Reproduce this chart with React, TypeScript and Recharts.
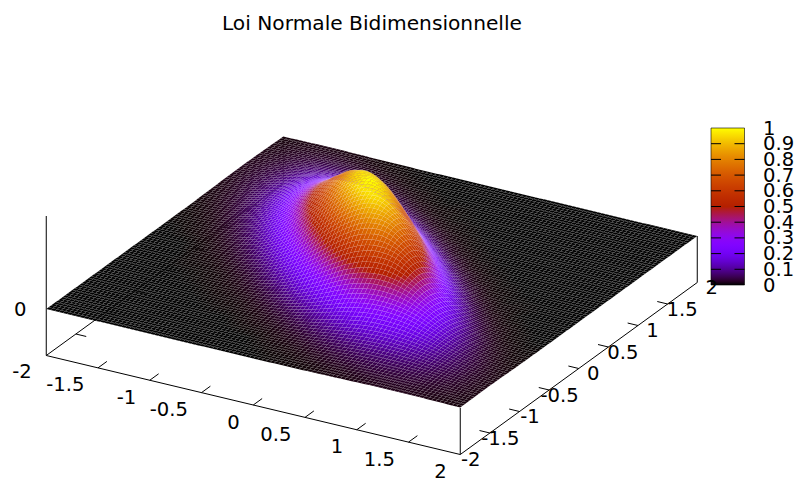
import React from "react";
import { ScatterChart, Scatter, XAxis, YAxis, ReferenceLine, ReferenceArea } from "recharts";

const W = 798;
const H = 479;
const titleText = "Loi Normale Bidimensionnelle";
const xTicks = [-2, -1.5, -1, -0.5, 0, 0.5, 1, 1.5, 2];
const yTicks = [-2, -1.5, -1, -0.5, 0, 0.5, 1, 1.5, 2];
const zTicks = [0];
const cbTicks = [0, 0.1, 0.2, 0.3, 0.4, 0.5, 0.6, 0.7, 0.8, 0.9, 1];
const gridX = [-2, -1.8, -1.6, -1.4, -1.2, -1, -0.8, -0.6, -0.4, -0.2, 0, 0.2, 0.4, 0.6, 0.8, 1, 1.2, 1.4, 1.6, 1.8, 2];

// surface heights, one list per y value (y = -2 ... 2), left to right along x
const yM20 = [0,0,0,0,0,0,0,0,0,0,0,.001,.001,.004,.007,.010,.013,.013,.011,.008,.005];
const yM18 = [0,0,0,0,0,0,0,0,0,0,.001,.003,.008,.015,.021,.028,.029,.027,.021,.015,.008];
const yM16 = [0,0,0,0,0,0,0,0,0,.001,.006,.013,.026,.040,.054,.060,.058,.049,.035,.020,.009];
const yM14 = [0,0,0,0,0,0,0,0,.003,.008,.020,.040,.068,.095,.114,.115,.102,.077,.047,.022,.008];
const yM12 = [0,0,0,0,0,0,.001,.003,.010,.027,.058,.104,.152,.192,.205,.191,.152,.097,.048,.018,.005];
const yM10 = [0,0,0,0,0,.001,.004,.011,.034,.076,.141,.220,.293,.328,.322,.271,.181,.096,.036,.010,.002];
const yM08 = [0,0,0,0,.001,.004,.013,.036,.089,.175,.285,.400,.473,.489,.433,.306,.171,.069,.020,.004,.001];
const yM06 = [0,0,0,.001,.003,.011,.036,.095,.194,.333,.492,.615,.670,.625,.465,.274,.116,.035,.007,.001,0];
const yM04 = [0,0,0,.003,.010,.034,.089,.194,.352,.548,.720,.826,.811,.637,.394,.176,.055,.012,.002,0,0];
const yM02 = [0,0,.001,.008,.027,.076,.175,.333,.548,.759,.917,.949,.785,.513,.241,.080,.018,.003,0,0,0];
const y000 = [0,.001,.006,.020,.058,.141,.285,.492,.720,.917,1,.871,.600,.296,.104,.025,.004,.001,0,0,0];
const yP02 = [.001,.003,.013,.040,.104,.220,.400,.615,.826,.949,.871,.632,.330,.122,.031,.006,.001,0,0,0,0];
const yP04 = [.001,.008,.026,.068,.152,.293,.473,.670,.811,.785,.600,.330,.129,.034,.007,.001,0,0,0,0,0];
const yP06 = [.004,.015,.040,.095,.192,.328,.489,.625,.637,.513,.296,.122,.034,.007,.001,0,0,0,0,0,0];
const yP08 = [.007,.021,.054,.114,.205,.322,.433,.465,.394,.241,.104,.031,.007,.001,0,0,0,0,0,0,0];
const yP10 = [.010,.028,.060,.115,.191,.271,.306,.274,.176,.080,.025,.006,.001,0,0,0,0,0,0,0,0];
const yP12 = [.013,.029,.058,.102,.152,.181,.171,.116,.055,.018,.004,.001,0,0,0,0,0,0,0,0,0];
const yP14 = [.013,.027,.049,.077,.097,.096,.069,.035,.012,.003,.001,0,0,0,0,0,0,0,0,0,0];
const yP16 = [.011,.021,.035,.047,.048,.036,.020,.007,.002,0,0,0,0,0,0,0,0,0,0,0,0];
const yP18 = [.008,.015,.020,.022,.018,.010,.004,.001,0,0,0,0,0,0,0,0,0,0,0,0,0];
const yP20 = [.005,.008,.009,.008,.005,.002,.001,0,0,0,0,0,0,0,0,0,0,0,0,0,0];
const rows = [yM20,yM18,yM16,yM14,yM12,yM10,yM08,yM06,yM04,yM02,y000,yP02,yP04,yP06,yP08,yP10,yP12,yP14,yP16,yP18,yP20];

// gnuplot view of the box
const project = (x: number, y: number, z: number) => ({
  sx: 371.75 + 103.5 * x + 59.25 * y,
  sy: 272.5 + 24.75 * x - 43 * y - 93 * z,
});

const palette = (v: number) => {
  const t = Math.max(0, Math.min(1, v));
  const r = Math.sqrt(t);
  const g = t * t * t;
  const b = Math.max(0, Math.sin(2 * Math.PI * t));
  return `rgb(${Math.round(r * 255)},${Math.round(g * 255)},${Math.round(b * 255)})`;
};

const SUB = 5;
const clampIdx = (n: number) => Math.max(0, Math.min(20, n));
const cr = (a: number, b: number, c: number, d: number, t: number) =>
  0.5 * (2 * b + (c - a) * t + (2 * a - 5 * b + 4 * c - d) * t * t + (3 * b - a - 3 * c + d) * t * t * t);
// smooth height inside one cell of the read grid (same idea as a smoothed line between points)
const patch = (ci: number, cj: number, u: number, v: number) => {
  const col = [-1, 0, 1, 2].map((dj) => {
    const r = rows[clampIdx(cj + dj)];
    return cr(r[clampIdx(ci - 1)], r[clampIdx(ci)], r[clampIdx(ci + 1)], r[clampIdx(ci + 2)], u);
  });
  return Math.max(0, cr(col[0], col[1], col[2], col[3], v));
};

const cells: { sx: number; sy: number; ci: number; cj: number }[] = [];
for (let cj = 19; cj >= 0; cj--) {
  for (let ci = 0; ci < 20; ci++) {
    const p = project(gridX[ci] + 0.1, gridX[cj] + 0.1, 0);
    cells.push({ sx: p.sx, sy: p.sy, ci, cj });
  }
}

const CellShape = (props: any) => {
  const { cx, cy, payload } = props;
  const { ci, cj, sx, sy } = payload;
  const polys: React.ReactNode[] = [];
  const pt = (a: number, b: number) => {
    const u = a / SUB;
    const v = b / SUB;
    const z = patch(ci, cj, u, v);
    const p = project(gridX[ci] + 0.2 * u, gridX[cj] + 0.2 * v, z);
    return { x: p.sx - sx + cx, y: p.sy - sy + cy, z };
  };
  for (let b = SUB - 1; b >= 0; b--) {
    for (let a = 0; a < SUB; a++) {
      const c = [pt(a, b), pt(a + 1, b), pt(a + 1, b + 1), pt(a, b + 1)];
      const zm = (c[0].z + c[1].z + c[2].z + c[3].z) / 4;
      polys.push(
        <polygon
          key={`${a}-${b}`}
          points={c.map((q) => `${q.x.toFixed(2)},${q.y.toFixed(2)}`).join(" ")}
          fill={palette(zm)}
          stroke="rgba(255,255,255,0.13)"
          strokeWidth={0.4}
        />
      );
    }
  }
  return <g>{polys}</g>;
};

const font = "'DejaVu Sans', sans-serif";
const Label = (props: any) => {
  const { cx, cy, payload } = props;
  return (
    <text
      x={cx + payload.dx}
      y={cy + payload.dy}
      textAnchor={payload.anchor}
      dominantBaseline="central"
      fontFamily={font}
      fontSize={payload.size}
      fill="#000"
    >
      {payload.text}
    </text>
  );
};

const floorX = (x: number) => project(x, -2, -0.5);
const floorY = (y: number) => project(2, y, -0.5);
const labels = [
  { sx: 372, sy: 23, dx: 0, dy: 0, anchor: "middle", size: 20.2, text: titleText },
  ...xTicks.map((v) => {
    const p = floorX(v);
    return { ...p, dx: -13.5, dy: 17, anchor: "end", size: 19.6, text: String(v) };
  }).filter((l) => l.text !== "-2"),
  ...yTicks.map((v) => {
    const p = floorY(v);
    return { ...p, dx: v < 0 ? 10.5 : 14.5, dy: 5, anchor: "middle", size: 19.6, text: String(v) };
  }),
  { sx: 46, sy: 369, dx: -24, dy: 2, anchor: "middle", size: 19.6, text: "-2" },
  ...zTicks.map((v) => {
    const p = project(-2, -2, v);
    return { ...p, dx: -26, dy: 0, anchor: "middle", size: 19.6, text: String(v) };
  }),
  ...cbTicks.map((v) => ({
    sx: 763, sy: 285 - 157 * v, dx: 0, dy: 0, anchor: "start", size: 19.6, text: String(v),
  })),
];

const seg = (a: { sx: number; sy: number }, b: { sx: number; sy: number }, key: string, stroke = "#000", op = 1) => (
  <ReferenceLine
    key={key}
    segment={[{ x: a.sx, y: a.sy }, { x: b.sx, y: b.sy }]}
    stroke={stroke}
    strokeOpacity={op}
    strokeWidth={1}
    ifOverflow="visible"
  />
);

export default function App() {
  return (
    <div style={{ position: "absolute", left: 0, top: 0, width: W, height: H, background: "#fff" }}>
      <ScatterChart width={W} height={H} margin={{ top: 0, right: 0, bottom: 0, left: 0 }}>
        <defs>
          <linearGradient id="cbar" x1="0" y1="1" x2="0" y2="0">
            {Array.from({ length: 41 }, (_, k) => (
              <stop key={k} offset={k / 40} stopColor={palette(k / 40)} />
            ))}
          </linearGradient>
        </defs>
        <XAxis type="number" dataKey="sx" domain={[0, W]} hide />
        <YAxis type="number" dataKey="sy" domain={[0, H]} reversed hide />
        {/* floor and back edges, behind the surface */}
        {seg(project(-2, -2, -0.5), project(2, -2, -0.5), "f1")}
        {seg(project(2, -2, -0.5), project(2, 2, -0.5), "f2")}
        {seg(project(-2, -2, -0.5), project(-2, 2, -0.5), "f3")}
        {seg(project(-2, -2, -0.5), project(-2, -2, 1), "zaxis")}
        {seg(project(2, -2, -0.5), project(2, -2, 0), "v1")}
        {seg(project(2, 2, -0.5), project(2, 2, 0), "v2")}
        {xTicks.slice(1, 8).map((v) => seg(floorX(v), project(v, -1.85, -0.5), `xt${v}`))}
        {yTicks.slice(1, 8).map((v) => seg(floorY(v), project(1.9, v, -0.5), `yt${v}`))}
        {yTicks.slice(1, 8).map((v) => seg(project(-2, v, -0.5), project(-1.9, v, -0.5), `ym${v}`))}
        <Scatter data={cells} dataKey="sy" shape={CellShape} isAnimationActive={false} />
        {seg(project(-2, 2, 0), project(-2, 2, -0.5), "backv", "#000", 0.75)}
        <ReferenceArea x1={711} x2={744.5} y1={128} y2={285} fill="url(#cbar)" fillOpacity={1} stroke="#000" strokeOpacity={0.6} strokeWidth={1} ifOverflow="visible" />
        {cbTicks.slice(1, 10).map((v) => seg({ sx: 711, sy: 285 - 157 * v }, { sx: 721, sy: 285 - 157 * v }, `cl${v}`))}
        {cbTicks.slice(1, 10).map((v) => seg({ sx: 734.5, sy: 285 - 157 * v }, { sx: 744.5, sy: 285 - 157 * v }, `cr${v}`))}
        <Scatter data={labels} dataKey="sy" shape={Label} isAnimationActive={false} />
      </ScatterChart>
    </div>
  );
}
